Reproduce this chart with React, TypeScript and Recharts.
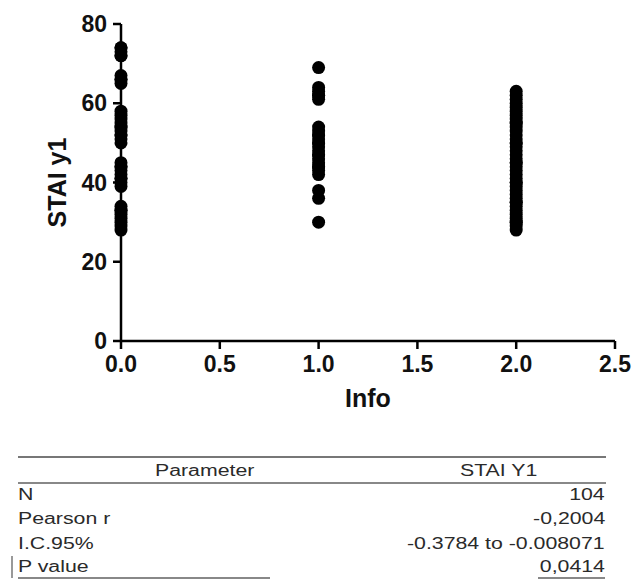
import { Label, Scatter, ScatterChart, XAxis, YAxis, ZAxis } from "recharts";

// STAI y1 scores grouped by Info level (0, 1, 2)
const info0 = [
  74, 74, 73, 72, 72, 67, 66, 66, 65, 58, 57, 56, 55, 54, 54, 53, 52, 52, 51, 50,
  45, 44, 44, 43, 42, 41, 41, 40, 39, 34, 33, 33, 32, 31, 30, 29, 28,
];
const info1 = [
  69, 64, 63, 62, 62, 61, 54, 53, 52, 52, 51, 50, 50, 49, 48, 47, 47, 46, 45, 44, 44,
  43, 42, 38, 36, 30,
];
const info2 = [
  63, 62, 61, 60, 59, 58, 57, 56, 55, 55, 54, 53, 52, 51, 50, 50, 49, 48, 47, 46, 45,
  45, 44, 43, 42, 41, 40, 40, 39, 38, 37, 36, 35, 35, 34, 33, 32, 31, 30, 30, 29, 28,
];

const xTicks = [0, 0.5, 1, 1.5, 2, 2.5];
const yTicks = [0, 20, 40, 60, 80];

const statRows = [
  { label: "N", value: "104" },
  { label: "Pearson r", value: "-0,2004" },
  { label: "I.C.95%", value: "-0.3784 to -0.008071" },
  { label: "P value", value: "0,0414" },
];

const points = [
  ...info0.map((y) => ({ x: 0, y })),
  ...info1.map((y) => ({ x: 1, y })),
  ...info2.map((y) => ({ x: 2, y })),
];

const FONT = "'Liberation Sans', Arial, sans-serif";
const tickStyle = { fontSize: 23, fontWeight: 700, fill: "#111", fontFamily: FONT };

const Dot = (props: any) => <circle cx={props.cx} cy={props.cy} r={6.5} fill="#000" />;

const stretched = (origin: string): React.CSSProperties => ({
  display: "inline-block",
  transform: "scaleX(1.33)",
  transformOrigin: origin,
  whiteSpace: "nowrap",
});

function StatsTable() {
  const rowTop = [484, 508, 533, 556];
  return (
    <div style={{ fontFamily: FONT, fontSize: 16, color: "#2a2a2a" }}>
      <div style={{ position: "absolute", left: 18, top: 456, width: 588, height: 2, background: "#777" }} />
      <div style={{ position: "absolute", left: 18, top: 482, width: 588, height: 2, background: "#888" }} />
      <div style={{ position: "absolute", left: 155, top: 462, lineHeight: "18px" }}>
        <span style={stretched("left")}>Parameter</span>
      </div>
      <div style={{ position: "absolute", left: 460, top: 462, lineHeight: "18px" }}>
        <span style={stretched("left")}>STAI Y1</span>
      </div>
      {statRows.map((r, i) => (
        <div key={r.label}>
          <div style={{ position: "absolute", left: 18, top: rowTop[i], lineHeight: "22px" }}>
            <span style={stretched("left")}>{r.label}</span>
          </div>
          <div style={{ position: "absolute", right: 644 - 605, top: rowTop[i], lineHeight: "22px", textAlign: "right" }}>
            <span style={stretched("right")}>{r.value}</span>
          </div>
        </div>
      ))}
      <div style={{ position: "absolute", left: 18, top: 577, width: 252, height: 2, background: "#888" }} />
      <div style={{ position: "absolute", left: 538, top: 577, width: 67, height: 2, background: "#888" }} />
      <div style={{ position: "absolute", left: 11, top: 556, width: 2, height: 22, background: "#999" }} />
    </div>
  );
}

export default function App() {
  return (
    <div style={{ position: "absolute", left: 0, top: 0, width: 644, height: 581, background: "#fff" }}>
      <ScatterChart width={644} height={411} margin={{ top: 24, right: 29, bottom: 0, left: 0 }}>
        <XAxis
          type="number"
          dataKey="x"
          domain={[0, 2.5]}
          ticks={xTicks}
          tickFormatter={(v: number) => v.toFixed(1)}
          height={70}
          stroke="#000"
          strokeWidth={2.5}
          tickSize={8}
          tickMargin={7}
          tick={tickStyle}
          interval={0}
        >
          <Label
            value="Info"
            position="insideBottom"
            offset={4}
            style={{ fontSize: 25, fontWeight: 700, fill: "#111", fontFamily: FONT }}
          />
        </XAxis>
        <YAxis
          type="number"
          dataKey="y"
          domain={[0, 80]}
          ticks={yTicks}
          width={121}
          stroke="#000"
          strokeWidth={2.5}
          tickSize={8}
          tickMargin={6}
          tick={tickStyle}
          interval={0}
        >
          <Label
            value="STAI y1"
            angle={-90}
            position="insideLeft"
            offset={57}
            style={{ fontSize: 25, fontWeight: 700, fill: "#111", fontFamily: FONT, textAnchor: "middle" }}
          />
        </YAxis>
        <ZAxis range={[130, 130]} />
        <Scatter data={points} fill="#000" shape={Dot} isAnimationActive={false} />
      </ScatterChart>
      <StatsTable />
    </div>
  );
}
